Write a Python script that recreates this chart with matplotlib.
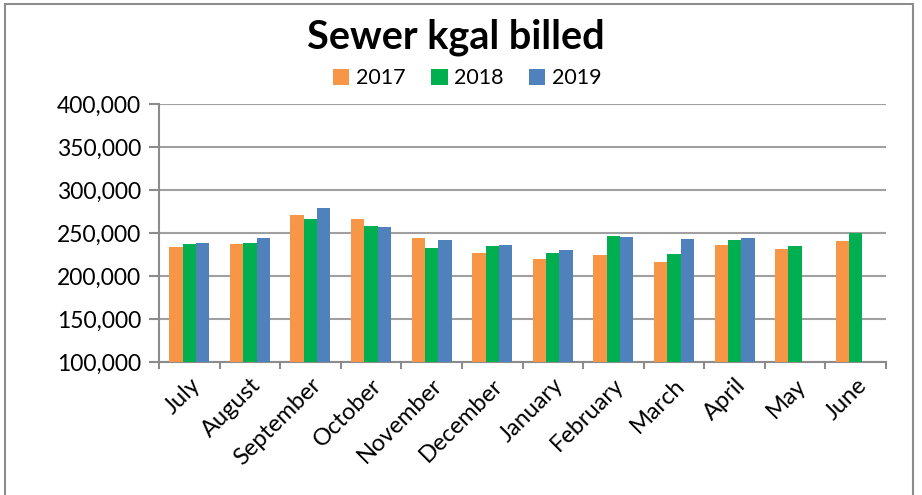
import matplotlib.pyplot as plt
import numpy as np
from matplotlib.patches import Rectangle
from matplotlib.ticker import FuncFormatter

months = ["July", "August", "September", "October", "November", "December",
          "January", "February", "March", "April", "May", "June"]
y2017 = [234100, 237600, 270900, 265900, 243800, 226700,
         219800, 224000, 216300, 236000, 231800, 240300]
y2018 = [237600, 238400, 265900, 258500, 232200, 235300,
         226700, 246900, 225600, 241900, 234900, 250000]
y2019 = [238400, 244600, 279100, 257400, 242200, 236000,
         230600, 245000, 243400, 243800, 0, 0]

plt.rcParams['font.family'] = ['Lato', 'DejaVu Sans']

fig = plt.figure(figsize=(9.22, 4.95), dpi=100)
ax = fig.add_axes([159/922, 1-362/495, (886-159)/922, (362-104)/495])

x = np.arange(len(months))
w = 0.22
ax.bar(x - w, y2017, w, color="#F79646", label="2017", zorder=3)
ax.bar(x, y2018, w, color="#00B050", label="2018", zorder=3)
ax.bar(x + w, y2019, w, color="#4F81BD", label="2019", zorder=3)

ax.set_xlim(-0.5, 11.5)
ax.set_ylim(100000, 400000)
ax.set_yticks(np.arange(100000, 400001, 50000))
ax.yaxis.set_major_formatter(FuncFormatter(lambda v, p: f"{int(v):,}"))
ax.grid(axis="y", color="#A0A0A0", linewidth=1.5, zorder=0)

for s in ["top", "right"]:
    ax.spines[s].set_visible(False)
for s in ["left", "bottom"]:
    ax.spines[s].set_color("#8C8C8C")
    ax.spines[s].set_linewidth(1.5)

ax.set_xticks(x)
ax.set_xticklabels(months, rotation=45, ha="right", rotation_mode="anchor")
ax.set_xticks(np.arange(-0.5, 12, 1), minor=True)
ax.tick_params(axis="x", which="major", length=0, pad=9, labelsize=17)
ax.tick_params(axis="x", which="minor", length=5, width=1.5, color="#8C8C8C")
ax.tick_params(axis="y", length=7, width=1.5, color="#8C8C8C", labelsize=16.5, pad=6)

fig.text(0.494, 0.925, "Sewer kgal billed", ha="center", va="center",
         fontsize=28.5, fontweight="bold")
fig.legend(loc="center", bbox_to_anchor=(0.507, 0.842), ncol=3, frameon=False,
           fontsize=15.5, handlelength=0.75, handleheight=0.75,
           handletextpad=0.3, columnspacing=1.2)

fig.patches.append(Rectangle((5/922, -0.02), 908/922, 1 - 4/495 + 0.02,
                             transform=fig.transFigure, fill=False,
                             edgecolor="#8C8C8C", linewidth=1.5))

fig.savefig("out.png", dpi=100)
